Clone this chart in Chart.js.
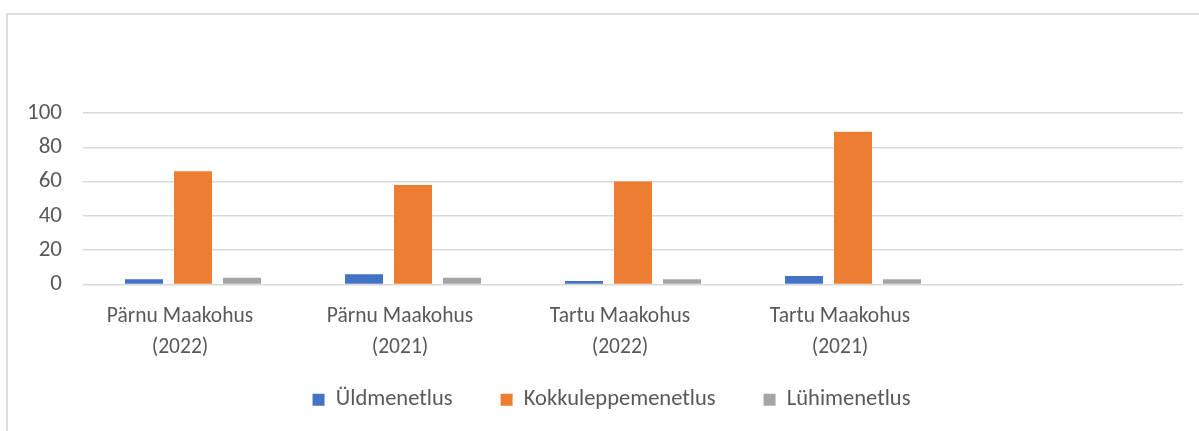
<!DOCTYPE html>
<html>
<head>
<meta charset="utf-8">
<script src="https://cdn.jsdelivr.net/npm/chart.js@4"></script>
<style>
html, body { margin: 0; padding: 0; background: #fff; }
#frame { position: absolute; left: 6px; top: 13px; width: 1300px; height: 500px;
  border-left: 2px solid #dedede; border-top: 2px solid #dedede; }
#wrap { position: absolute; left: 0; top: 0; width: 1199px; height: 431px; }
</style>
</head>
<body>
<div id="frame"></div>
<div id="wrap"><canvas id="myChart"></canvas></div>
<script>
// courts (last slot is empty in the original)
var courts = [
  ['Pärnu Maakohus', '(2022)'],
  ['Pärnu Maakohus', '(2021)'],
  ['Tartu Maakohus', '(2022)'],
  ['Tartu Maakohus', '(2021)'],
  ''
];
var seriesNames = ['Üldmenetlus', 'Kokkuleppemenetlus', 'Lühimenetlus'];
var yldmenetlus = [3, 6, 2, 5, null];
var kokkulepe = [66, 58, 60, 89, null];
var luhimenetlus = [4, 4, 3, 3, null];
var yMin = 0, yMax = 100, yStep = 20;

var colors = ['#4472C4', '#ED7D31', '#A5A5A5'];
var txt = '#595959';
var fam = 'Carlito, Calibri, Lato, sans-serif';

// move the legend: up closer to the axis labels, and a little to the right
var legendShift = {
  id: 'legendShift',
  afterLayout: function (c) {
    c.legend.top -= 22;
    c.legend.bottom -= 22;
    c.legend.left += 20;
    c.legend.right += 20;
  }
};

var ctx = document.getElementById('myChart').getContext('2d');
var chart = new Chart(ctx, {
  type: 'bar',
  data: {
    labels: courts,
    datasets: [
      { label: seriesNames[0], data: yldmenetlus, backgroundColor: colors[0] },
      { label: seriesNames[1], data: kokkulepe, backgroundColor: colors[1] },
      { label: seriesNames[2], data: luhimenetlus, backgroundColor: colors[2] }
    ]
  },
  plugins: [legendShift],
  options: {
    responsive: true,
    maintainAspectRatio: false,
    animation: false,
    categoryPercentage: 0.668,
    barPercentage: 0.776,
    layout: { padding: { left: 0, right: 16, top: 113, bottom: 0 } },
    plugins: {
      tooltip: { enabled: false },
      legend: {
        position: 'bottom',
        maxHeight: 68.5,
        labels: {
          boxWidth: 12, boxHeight: 12, padding: 48,
          color: txt, font: { family: fam, size: 22.5 }
        }
      }
    },
    scales: {
      x: {
        grid: { display: false },
        border: { display: false },
        ticks: {
          color: txt, padding: 8.5, labelOffset: -13, maxRotation: 0, autoSkip: false,
          font: { family: fam, size: 21.5, lineHeight: 1.45 }
        },
        afterFit: function (s) { s.height = 78; }
      },
      y: {
        min: yMin, max: yMax,
        grid: { color: '#d9d9d9', lineWidth: 1.5, drawTicks: false },
        border: { display: false },
        ticks: {
          stepSize: yStep, color: txt, padding: 21,
          font: { family: fam, size: 23 }
        },
        afterFit: function (s) { s.width = 83; }
      }
    }
  }
});
</script>
</body>
</html>
